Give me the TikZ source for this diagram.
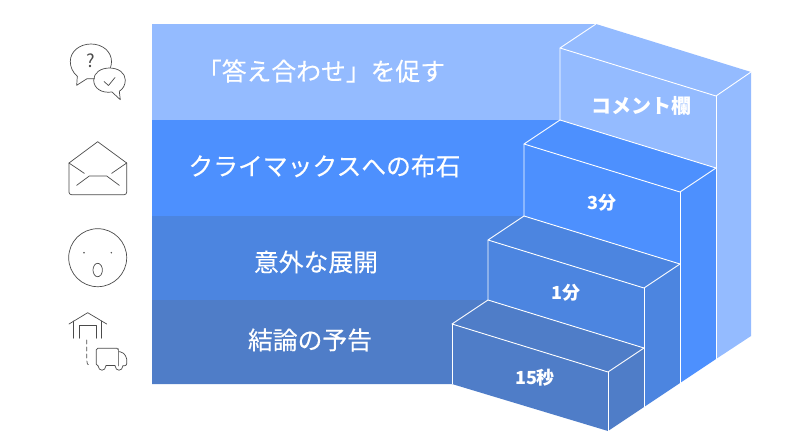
\documentclass[tikz,border=0pt]{standalone}
\usepackage{fontspec}
\setmainfont{Noto Sans CJK JP}
\newfontfamily\hdrfont{Noto Sans CJK JP}[FakeBold=0.25]
\usepackage{xcolor}
\usepackage{tikz}
\usetikzlibrary{arrows.meta, positioning, calc}
\definecolor{stepD}{HTML}{94BBFF}
\definecolor{stepC}{HTML}{4D90FE}
\definecolor{stepB}{HTML}{4C85E0}
\definecolor{stepA}{HTML}{4F7DC8}
\definecolor{iconline}{HTML}{4A4A4A}

\begin{document}
\begin{tikzpicture}[x=1pt, y=-1pt]

\tikzset{
  edge/.style={draw=white, line width=0.9pt, line join=round},
  hdr/.style={font=\hdrfont\fontsize{24.8}{28}\selectfont, text=white, inner sep=0pt},
  cell/.style={font=\fontsize{18}{22}\selectfont\bfseries, text=white, inner sep=0pt},
  icon/.style={draw=iconline, line width=0.7pt, line join=round, line cap=round},
}

\useasboundingbox (0,0) rectangle (800,440);

% ---- Steps, back to front ---------------------------------------------------
\fill[stepD] (152,24) -- (596,24) -- (751,72) -- (751,336) -- (716,359)
  -- (716,168) -- (560,120) -- (152,120) -- cycle;
\fill[stepC] (152,120) -- (560,120) -- (716,168) -- (716,359) -- (680,383)
  -- (680,264) -- (524,216) -- (152,216) -- cycle;
\fill[stepB] (152,216) -- (524,216) -- (680,264) -- (680,383) -- (644,407)
  -- (644,348) -- (488,300) -- (152,300) -- cycle;
\fill[stepA] (152,300) -- (488,300) -- (644,348) -- (644,407) -- (608,431)
  -- (452,384) -- (152,384) -- cycle;

% ---- White edges ------------------------------------------------------------
\draw[edge] (596,24) -- (560,48) -- (716,96) -- (751,72);
\draw[edge] (560,48) -- (560,120) -- (716,168);
\draw[edge] (716,96) -- (716,359);
\draw[edge] (560,120) -- (524,144) -- (680,192) -- (716,168);
\draw[edge] (524,144) -- (524,216) -- (680,264);
\draw[edge] (680,192) -- (680,383);
\draw[edge] (524,216) -- (488,240) -- (644,288) -- (680,264);
\draw[edge] (488,240) -- (488,300) -- (644,348);
\draw[edge] (644,288) -- (644,407);
\draw[edge] (488,300) -- (452,324) -- (608,372) -- (644,348);
\draw[edge] (452,324) -- (452,384);
\draw[edge] (608,372) -- (608,431);

% ---- Band labels ------------------------------------------------------------
\node[hdr] (promptL) at (321,71)  {「答え合わせ」を促す};
\node[hdr] (climaxL) at (324.5,166) {クライマックスへの布石};
\node[hdr] (turnL)   at (316,262) {意外な展開};
\node[hdr] (endL)    at (310,340) {結論の予告};

% ---- Step labels ------------------------------------------------------------
\node[cell, font=\fontsize{20}{24}\selectfont\bfseries] (commentT) at (641,106) {コメント欄};
\node[cell] (threeT)   at (602,203) {3分};
\node[cell] (oneT)     at (566,293) {1分};
\node[cell] (fifteenT) at (535,378) {15秒};

% ---- Icon: speech bubbles ---------------------------------------------------
\draw[icon] (77.3,76.3) .. controls (72.5,72) and (70.3,67) .. (70.3,61.5)
  .. controls (70.3,51.5) and (79.5,44) .. (91,44)
  .. controls (102.5,44) and (111.5,51.5) .. (111.5,61.5)
  .. controls (111.5,63.5) and (111.2,65.5) .. (110.5,67.5);
\draw[icon] (77.3,76.3) -- (76.7,85.3) -- (87,78.7) -- (94.5,78.7);
\draw[icon] (119.3,91.3) -- (120.3,99.7) -- (112,92)
  .. controls (101,93.5) and (93.7,88) .. (93.7,80)
  .. controls (93.7,73) and (100.5,68) .. (109.5,68)
  .. controls (118.5,68) and (125.3,73) .. (125.3,80)
  .. controls (125.3,85) and (123,89) .. (119.3,91.3);
\draw[icon] (104,81.5) -- (108.5,85.5) -- (115,77.5);
\node[font=\fontsize{18}{20}\selectfont, text=iconline, inner sep=0pt] (askT) at (90.5,60.5) {?};

% ---- Icon: envelope ---------------------------------------------------------
\draw[icon, rounded corners=2.5pt] (69,163) -- (69,194.7) -- (126.7,194.7) -- (126.7,163);
\draw[icon] (69,163) -- (97.7,141.7) -- (126.7,163);
\draw[icon] (69,163) -- (84.3,173.3);
\draw[icon] (126.7,163) -- (111.7,173.3);
\draw[icon] (76.7,185.3) -- (89.3,176) -- (106.7,176) -- (119.3,185.3);

% ---- Icon: face -------------------------------------------------------------
\draw[icon] (97.7,257.7) circle (29);
\fill[iconline] (84,252.7) circle (0.8) (111.3,252.7) circle (0.8);
\draw[icon] (97.7,270) ellipse (4.7 and 6.7);

% ---- Icon: house and truck --------------------------------------------------
\draw[icon] (69,324) -- (87.7,312.7) -- (106.7,324);
\draw[icon] (73.3,321) -- (73.3,338.3);
\draw[icon] (101.7,321) -- (101.7,338.3);
\draw[icon] (79,338.3) -- (79,325.7) -- (96,325.7) -- (96,338.3);
\draw[icon, dashed, dash pattern=on 4pt off 3pt] (86.7,340) -- (86.7,360) .. controls (86.7,363) and (87.5,365) .. (89.5,365.7);
\draw[icon, rounded corners=1.5pt] (98,365.7) -- (96.3,365.7) -- (96.3,348.3) -- (118.5,348.3) -- (118.5,365.7);
\draw[icon, line width=1.1pt, draw=iconline!70] (118.5,349) -- (118.5,365.7);
\draw[icon, rounded corners=2pt] (119,351.7) -- (122,351.7) -- (126.7,357) -- (126.7,365.7) -- (123,365.7);
\draw[icon] (106,365.7) -- (115,365.7);
\draw[icon] (98,365.7) .. controls (98.5,371.7) and (105.5,371.7) .. (106,365.7);
\draw[icon] (115,365.7) .. controls (115.5,371.7) and (122.5,371.7) .. (123,365.7);

\end{tikzpicture}
\end{document}
